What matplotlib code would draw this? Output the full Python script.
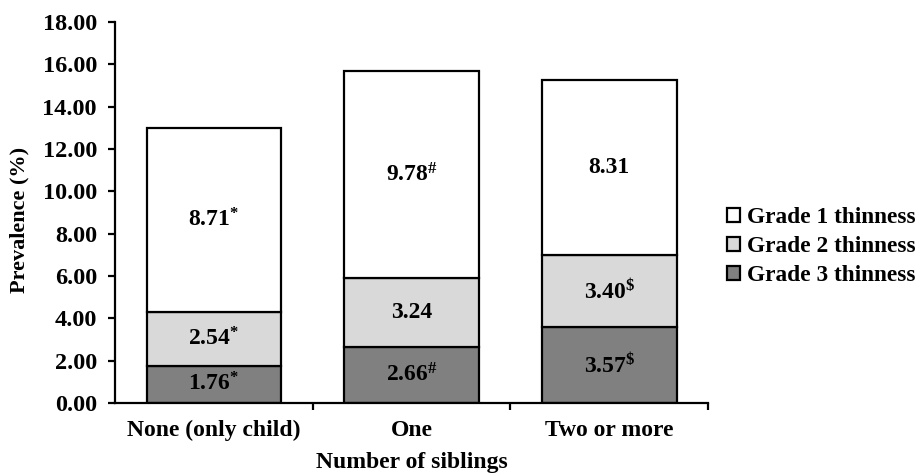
import matplotlib
matplotlib.use('Agg')
import matplotlib.pyplot as plt
import numpy as np

plt.rcParams['font.family'] = ['Liberation Serif', 'DejaVu Serif']
plt.rcParams['font.weight'] = 'bold'
plt.rcParams['mathtext.fontset'] = 'custom'
plt.rcParams['mathtext.rm'] = 'Liberation Serif:bold'
plt.rcParams['mathtext.bf'] = 'Liberation Serif:bold'
plt.rcParams['mathtext.it'] = 'Liberation Serif:bold'

# Data
categories = ['None (only child)', 'One', 'Two or more']
grade3 = [1.76, 2.66, 3.57]
grade2 = [2.54, 3.24, 3.40]
grade1 = [8.71, 9.78, 8.31]
marks3 = ['*', r'\#', r'\$']
marks2 = ['*', '', r'\$']
marks1 = ['*', r'\#', '']
series_names = ['Grade 3 thinness', 'Grade 2 thinness', 'Grade 1 thinness']
colors = ['#808080', '#d9d9d9', '#ffffff']


def label(v, m):
    if m:
        return r'$%.2f^{%s}$' % (v, m)
    return '%.2f' % v


fig = plt.figure(figsize=(9.21, 4.73), dpi=100)
ax = fig.add_axes([0.1249, 0.148, 0.644, 0.8055])

x = np.arange(len(categories))
width = 0.68
bottom = np.zeros(len(categories))
for vals, marks, name, col in zip([grade3, grade2, grade1], [marks3, marks2, marks1],
                                  series_names, colors):
    ax.bar(x, vals, width, bottom=bottom, color=col, edgecolor='black',
           linewidth=1.6, label=name)
    for xi, v, bt, m in zip(x, vals, bottom, marks):
        ax.text(xi, bt + v / 2, label(v, m), ha='center', va='center',
                fontsize=17, fontweight='bold')
    bottom = bottom + np.array(vals)

ax.set_xlim(-0.5, 2.5)
ax.set_ylim(0, 18)
ax.set_yticks(np.arange(0, 18.1, 2))
ax.set_yticklabels(['%.2f' % t for t in np.arange(0, 18.1, 2)])
ax.set_xticks(x)
ax.set_xticklabels(categories)
ax.set_xticks([0.5, 1.5, 2.5], minor=True)
ax.tick_params(axis='x', which='major', length=0, pad=12, labelsize=17)
ax.tick_params(axis='x', which='minor', length=5, width=1.6, direction='out')
ax.tick_params(axis='y', length=5, width=1.6, direction='out', labelsize=17.5, pad=8)

for s in ['top', 'right']:
    ax.spines[s].set_visible(False)
for s in ['left', 'bottom']:
    ax.spines[s].set_linewidth(1.6)

ax.set_ylabel('Prevalence (%)', fontsize=16, fontweight='bold')
ax.yaxis.set_label_coords(-0.145, 0.48)
ax.set_xlabel('Number of siblings', fontsize=17, fontweight='bold', labelpad=8)

handles, labels = ax.get_legend_handles_labels()
fig.legend(handles[::-1], labels[::-1], loc='center left',
           bbox_to_anchor=(0.779, 0.478), frameon=False, fontsize=16.8,
           handlelength=0.55, handleheight=0.55, handletextpad=0.3,
           labelspacing=0.34, borderaxespad=0)

fig.savefig('out.png', dpi=100)
